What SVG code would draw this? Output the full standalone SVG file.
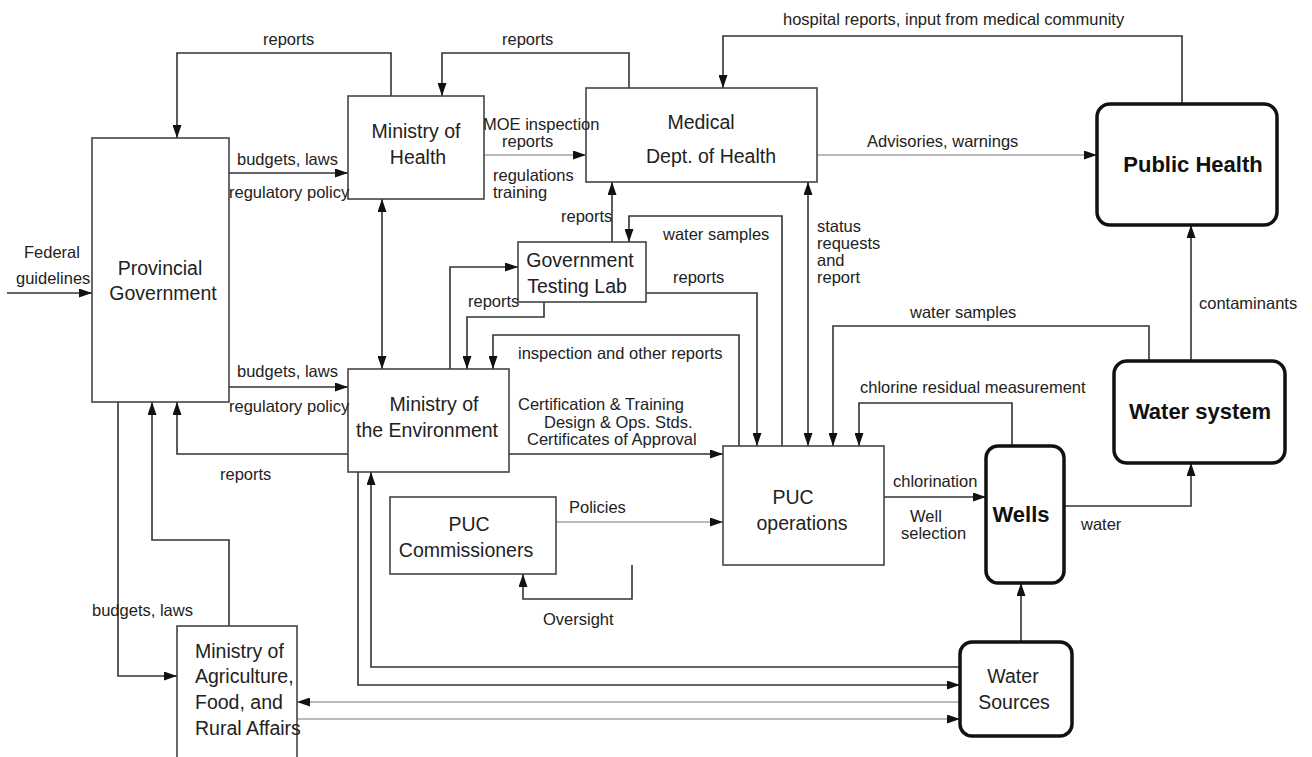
<svg xmlns="http://www.w3.org/2000/svg" width="1312" height="757" viewBox="0 0 1312 757">
  <style>
    .box { fill: #fff; stroke: #444; stroke-width: 1.6; }
    .rbox { fill: #fff; stroke: #111; stroke-width: 3.5; }
    .node { font-family: "Liberation Sans", Arial, sans-serif; font-size: 19.5px; fill: #222; text-anchor: middle; }
    .node.left { text-anchor: start; }
    .bold { font-family: "Liberation Sans", Arial, sans-serif; font-size: 22px; font-weight: bold; fill: #111; text-anchor: middle; }
    .lbl { font-family: "Liberation Sans", Arial, sans-serif; font-size: 16.5px; fill: #222; }
    .mid { text-anchor: middle; }
    .c { fill: none; stroke: #333; stroke-width: 1.6; }
    .thin { fill: none; stroke: #777; stroke-width: 1.1; }
    .end { marker-end: url(#ah); }
    .both { marker-start: url(#ah); marker-end: url(#ah); }
  </style>
  <defs>
    <marker id="ah" markerUnits="userSpaceOnUse" markerWidth="13" markerHeight="9" refX="13" refY="4.5" orient="auto-start-reverse">
      <path d="M0,0 L13,4.5 L0,9 z" fill="#111"/>
    </marker>
  </defs>
  <rect width="1312" height="757" fill="#fff"/>

  <!-- connectors -->
  <g id="connectors">
    <path class="c end" d="M391,96 V53 H177 V138"/>
    <path class="c end" d="M229,173 H348"/>
    <path class="c end" d="M229,387 H348"/>
    <path class="c end" d="M348,454 H177 V402"/>
    <path class="c end" d="M7,293 H92"/>
    <path class="c end" d="M118,402 V676 H177"/>
    <path class="c end" d="M229,626 V540 H152 V402"/>
    <path class="c both" d="M382,199 V369"/>
    <path class="c end" d="M629,88 V53 H442 V96"/>
    <path class="thin end" d="M484,155 H586"/>
    <path class="c end" d="M1182,104 V36 H723 V88"/>
    <path class="thin end" d="M817,155 H1097"/>
    <path class="c end" d="M612,242 V182"/>
    <path class="c end" d="M782,446 V216 H629 V242"/>
    <path class="c end" d="M646,293 H757 V446"/>
    <path class="c both" d="M808,182 V446"/>
    <path class="c end" d="M739,446 V335 H493 V369"/>
    <path class="c end" d="M544,302 V317 H467 V369"/>
    <path class="c end" d="M450,369 V267 H518"/>
    <path class="c end" d="M509,454 H723"/>
    <path class="thin end" d="M556,522 H723"/>
    <path class="c end" d="M632,565 V599 H523 V574"/>
    <path class="c end" d="M1149,361 V326 H833 V446"/>
    <path class="c end" d="M1012,446 V403 H859 V446"/>
    <path class="c end" d="M884,497 H986"/>
    <path class="c end" d="M1064,506 H1191 V463"/>
    <path class="c end" d="M1191,361 V225"/>
    <path class="c end" d="M1021,642 V583"/>
    <path class="c end" d="M960,667 H371 V472"/>
    <path class="c end" d="M358,472 V685 H960"/>
    <path class="thin end" d="M960,702 H297"/>
    <path class="thin end" d="M297,719 H960"/>
  </g>

  <!-- nodes -->
  <g id="provincial-government">
    <rect class="box" x="92" y="138" width="137" height="264"/>
    <text class="node" x="160" y="275">Provincial</text>
    <text class="node" x="163" y="300">Government</text>
  </g>
  <g id="ministry-of-health">
    <rect class="box" x="348" y="96" width="136" height="103"/>
    <text class="node" x="416" y="138">Ministry of</text>
    <text class="node" x="418" y="164">Health</text>
  </g>
  <g id="medical-dept">
    <rect class="box" x="586" y="88" width="231" height="94"/>
    <text class="node" x="701" y="129">Medical</text>
    <text class="node" x="711" y="163">Dept. of Health</text>
  </g>
  <g id="public-health">
    <rect class="rbox" x="1097" y="104" width="180" height="121" rx="13"/>
    <text class="bold" x="1193" y="172">Public Health</text>
  </g>
  <g id="government-testing-lab">
    <rect class="box" x="518" y="242" width="128" height="60"/>
    <text class="node" x="580" y="267">Government</text>
    <text class="node" x="577" y="293">Testing Lab</text>
  </g>
  <g id="ministry-of-environment">
    <rect class="box" x="348" y="369" width="161" height="103"/>
    <text class="node" x="434" y="411">Ministry of</text>
    <text class="node" x="427" y="437">the Environment</text>
  </g>
  <g id="puc-operations">
    <rect class="box" x="723" y="446" width="161" height="119"/>
    <text class="node" x="793" y="504">PUC</text>
    <text class="node" x="802" y="530">operations</text>
  </g>
  <g id="puc-commissioners">
    <rect class="box" x="390" y="497" width="166" height="77"/>
    <text class="node" x="469" y="531">PUC</text>
    <text class="node" x="466" y="557">Commissioners</text>
  </g>
  <g id="wells">
    <rect class="rbox" x="986" y="446" width="78" height="137" rx="12"/>
    <text class="bold" x="1021" y="522">Wells</text>
  </g>
  <g id="water-system">
    <rect class="rbox" x="1114" y="361" width="171" height="102" rx="13"/>
    <text class="bold" x="1200" y="419">Water system</text>
  </g>
  <g id="water-sources">
    <rect class="rbox" x="960" y="642" width="112" height="94" rx="12"/>
    <text class="node" x="1013" y="683">Water</text>
    <text class="node" x="1014" y="709">Sources</text>
  </g>
  <g id="ministry-of-agriculture">
    <rect class="box" x="177" y="626" width="120" height="150"/>
    <text class="node left" x="195" y="658">Ministry of</text>
    <text class="node left" x="195" y="683">Agriculture,</text>
    <text class="node left" x="195" y="709">Food, and</text>
    <text class="node left" x="195" y="735">Rural Affairs</text>
  </g>

  <!-- connector labels, drawn last so they sit over box edges -->
  <g id="labels" class="lbl">
    <text x="263" y="45">reports</text>
    <text x="502" y="45">reports</text>
    <text x="783" y="25">hospital reports, input from medical community</text>
    <text x="237" y="165">budgets, laws</text>
    <text x="229" y="198">regulatory policy</text>
    <text class="mid" x="52" y="258">Federal</text>
    <text x="16" y="284">guidelines</text>
    <text x="483" y="130">MOE inspection</text>
    <text x="502" y="147">reports</text>
    <text x="493" y="181">regulations</text>
    <text x="493" y="198">training</text>
    <text x="867" y="147">Advisories, warnings</text>
    <text x="561" y="222">reports</text>
    <text x="663" y="240">water samples</text>
    <text x="673" y="283">reports</text>
    <text x="817" y="232">status</text>
    <text x="817" y="249">requests</text>
    <text x="817" y="266">and</text>
    <text x="817" y="283">report</text>
    <text x="468" y="307">reports</text>
    <text x="518" y="359">inspection and other reports</text>
    <text x="237" y="377">budgets, laws</text>
    <text x="229" y="412">regulatory policy</text>
    <text x="220" y="480">reports</text>
    <text x="518" y="410">Certification &amp; Training</text>
    <text x="544" y="428">Design &amp; Ops. Stds.</text>
    <text x="527" y="445">Certificates of Approval</text>
    <text x="569" y="513">Policies</text>
    <text x="543" y="625">Oversight</text>
    <text x="92" y="616">budgets, laws</text>
    <text x="910" y="318">water samples</text>
    <text x="1199" y="309">contaminants</text>
    <text x="860" y="393">chlorine residual measurement</text>
    <text x="893" y="487">chlorination</text>
    <text class="mid" x="926" y="522">Well</text>
    <text x="901" y="539">selection</text>
    <text x="1081" y="530">water</text>
  </g>
</svg>
